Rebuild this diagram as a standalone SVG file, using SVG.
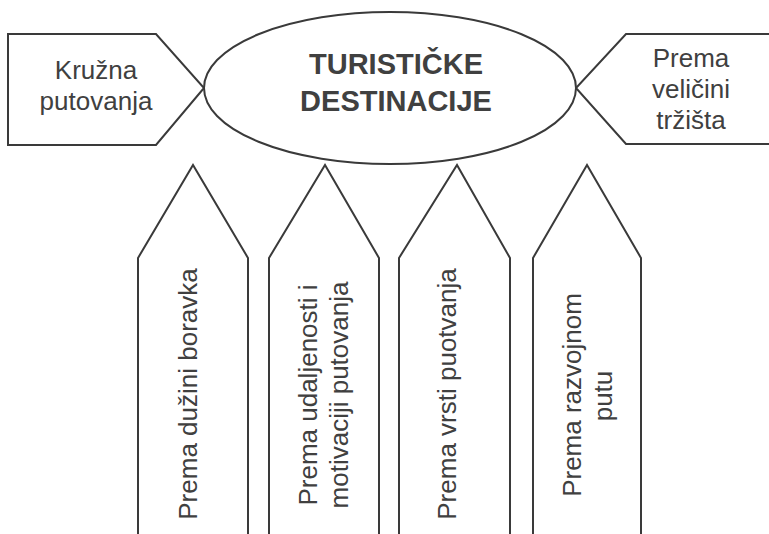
<svg xmlns="http://www.w3.org/2000/svg" width="769" height="534" viewBox="0 0 769 534">
<style>
.shape{fill:#fff;stroke:#3a3a3a;stroke-width:2;stroke-linejoin:miter}
.t{font-family:"Liberation Sans",Arial,sans-serif;font-size:26px;fill:#404040;text-anchor:middle}
.title{font-family:"Liberation Sans",Arial,sans-serif;font-size:29px;font-weight:bold;fill:#404040;text-anchor:middle}
</style>
<rect width="769" height="534" fill="#fff"/>
<g id="connectors"/>
<g id="node-kruzna">
<path class="shape" d="M8,34 H156 L204,88 L156,145 H8 Z"/>
<text class="t" x="96" y="79">Kružna</text>
<text class="t" x="96" y="110">putovanja</text>
</g>
<g id="node-trziste">
<path class="shape" d="M780,34 H626 L576,88 L626,144 H780"/>
<text class="t" x="691" y="67">Prema</text>
<text class="t" x="691" y="98">veličini</text>
<text class="t" x="691" y="129">tržišta</text>
</g>
<g id="node-destinacije">
<ellipse class="shape" cx="390" cy="88" rx="186" ry="76"/>
<text class="title" x="396" y="74">TURISTIČKE</text>
<text class="title" x="396" y="111">DESTINACIJE</text>
</g>
<g id="node-duzina">
<path class="shape" d="M138,545 V258 L193,165 L248,258 V545"/>
<text class="t" transform="translate(197,394) rotate(-90)">Prema dužini boravka</text>
</g>
<g id="node-udaljenost">
<path class="shape" d="M269,545 V258 L325,165 L379,258 V545"/>
<text class="t" transform="translate(317,395) rotate(-90)">Prema udaljenosti i</text>
<text class="t" transform="translate(348,395) rotate(-90)">motivaciji putovanja</text>
</g>
<g id="node-vrsta">
<path class="shape" d="M399,545 V258 L457,165 L510,258 V545"/>
<text class="t" transform="translate(456,394) rotate(-90)">Prema vrsti puotvanja</text>
</g>
<g id="node-razvoj">
<path class="shape" d="M533,545 V258 L587,165 L641,258 V545"/>
<text class="t" transform="translate(581,395) rotate(-90)">Prema razvojnom</text>
<text class="t" transform="translate(612,396) rotate(-90)">putu</text>
</g>
</svg>
